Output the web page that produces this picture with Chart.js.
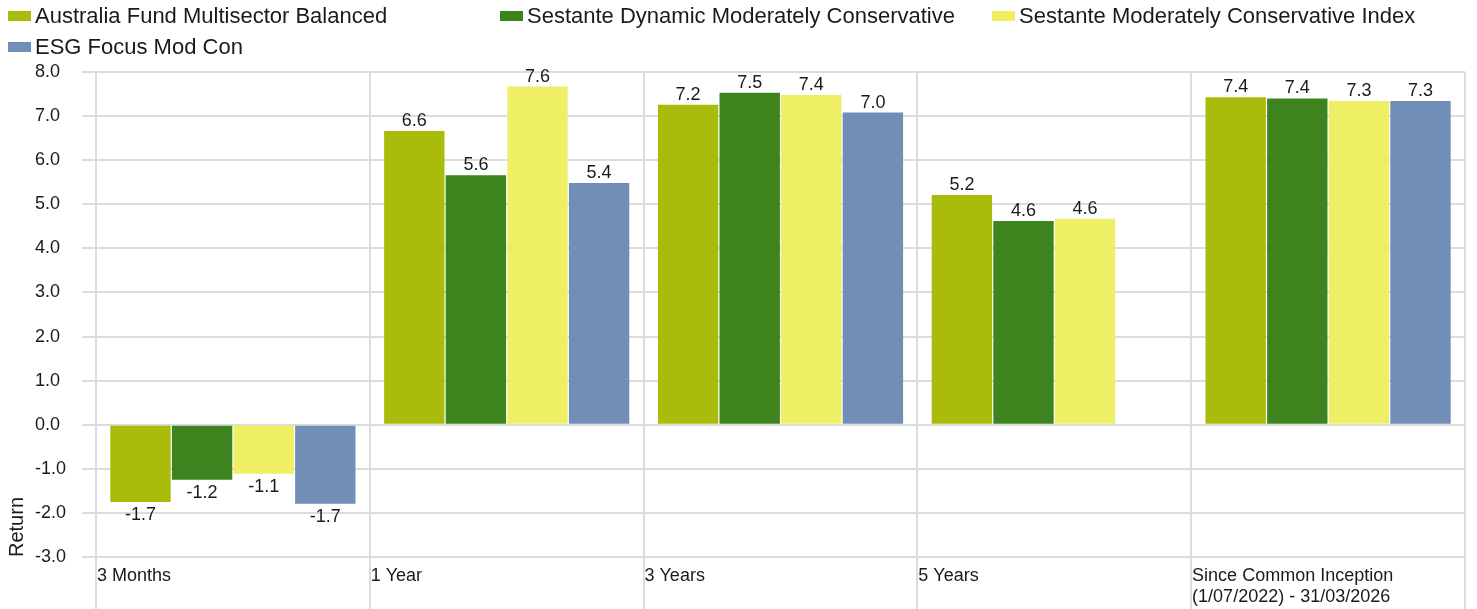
<!DOCTYPE html>
<html>
<head>
<meta charset="utf-8">
<title>Returns</title>
<script src="https://cdn.jsdelivr.net/npm/chart.js@4"></script>
<style>
  html, body { margin: 0; padding: 0; background: #fff; }
  #wrap { position: relative; width: 1477px; height: 609px; }
  #legend {
    position: absolute; left: 0; top: 0; width: 1477px;
    display: grid; grid-template-columns: repeat(3, 492px);
    font: 22px "Liberation Sans", Arial, sans-serif; color: #1a1a1a; line-height: 31px;
  }
  .item { display: flex; align-items: center; padding-left: 8px; white-space: nowrap; }
  .box { width: 23px; height: 10px; margin-right: 4px; flex: none; }
</style>
</head>
<body>
<div id="wrap">
  <canvas id="chart"></canvas>
  <div id="legend"></div>
</div>
<script>
const categories = [
  "3 Months",
  "1 Year",
  "3 Years",
  "5 Years",
  ["Since Common Inception", "(1/07/2022) - 31/03/2026"]
]

const seriesNames = [
  "Australia Fund Multisector Balanced",
  "Sestante Dynamic Moderately Conservative",
  "Sestante Moderately Conservative Index",
  "ESG Focus Mod Con"
]

const fundBalanced = [-1.75, 6.66, 7.26, 5.21, 7.43]
const dynamicModCon = [-1.25, 5.66, 7.53, 4.62, 7.40]
const modConIndex = [-1.11, 7.67, 7.48, 4.67, 7.34]
const esgModCon = [-1.79, 5.48, 7.08, null, 7.34]

const yTicks = [-3, -2, -1, 0, 1, 2, 3, 4, 5, 6, 7, 8]

const colors = ["#a9bb0b", "#3d831e", "#efef66", "#718eb6"]
const gridColor = "#dcdcdc"
const fontFamily = "'Liberation Sans', Arial, sans-serif"

Chart.defaults.color = "#1a1a1a"
Chart.defaults.font.family = fontFamily

// labels on the chart are cut, not rounded
const fmt = (v) => (Math.trunc(Math.round(v * 1000) / 100) / 10).toFixed(1)

const valueLabels = {
  id: "valueLabels",
  afterDatasetsDraw(chart) {
    const { ctx } = chart
    ctx.save()
    ctx.font = `18px ${fontFamily}`
    ctx.fillStyle = "#1a1a1a"
    ctx.textAlign = "center"
    ctx.textBaseline = "alphabetic"
    chart.data.datasets.forEach((ds, i) => {
      const meta = chart.getDatasetMeta(i)
      meta.data.forEach((bar, j) => {
        const v = ds.data[j]
        if (v === null || v === undefined) return
        const y = v >= 0 ? bar.y - 5 : bar.y + 18
        ctx.fillText(fmt(v), bar.x, y)
      })
    })
    ctx.restore()
  }
}

const seriesData = [fundBalanced, dynamicModCon, modConIndex, esgModCon]

const chart = new Chart(document.getElementById("chart"), {
  type: "bar",
  data: {
    labels: categories,
    datasets: seriesNames.map((name, i) => ({
      label: name,
      data: seriesData[i],
      backgroundColor: colors[i],
      borderWidth: 0,
      categoryPercentage: 0.9,
      barPercentage: 0.98
    }))
  },
  options: {
    responsive: true,
    maintainAspectRatio: false,
    animation: false,
    layout: { padding: { top: 72, right: 12, left: 35, bottom: 0 } },
    plugins: {
      legend: { display: false },
      tooltip: { enabled: false }
    },
    scales: {
      x: {
        grid: { color: gridColor, lineWidth: 2, tickLength: 52, offset: true },
        border: { color: gridColor, width: 2 },
        ticks: {
          align: "start",
          labelOffset: -136,
          padding: -44,
          maxRotation: 0,
          autoSkip: false,
          font: { size: 18 }
        },
        afterFit: (scale) => {
          scale.height = 52
          scale.paddingLeft = 0
          scale.paddingRight = 0
        }
      },
      y: {
        min: yTicks[0],
        max: yTicks[yTicks.length - 1],
        grid: { color: gridColor, lineWidth: 2, tickLength: 14 },
        border: { color: gridColor, width: 2 },
        afterBuildTicks: (scale) => {
          scale.ticks = yTicks.map((value) => ({ value }))
        },
        ticks: {
          crossAlign: "far",
          font: { size: 18 },
          callback: (value) => Number(value).toFixed(1)
        },
        title: {
          display: true,
          text: "Return",
          align: "start",
          padding: { top: -30, bottom: 0 },
          font: { size: 20 }
        },
        afterFit: (scale) => {
          scale.width = 61
        }
      }
    }
  },
  plugins: [valueLabels]
})

const legend = document.getElementById("legend")
chart.data.datasets.forEach((ds) => {
  const item = document.createElement("div")
  item.className = "item"
  const box = document.createElement("span")
  box.className = "box"
  box.style.background = ds.backgroundColor
  item.appendChild(box)
  item.appendChild(document.createTextNode(ds.label))
  legend.appendChild(item)
})
</script>
</body>
</html>
